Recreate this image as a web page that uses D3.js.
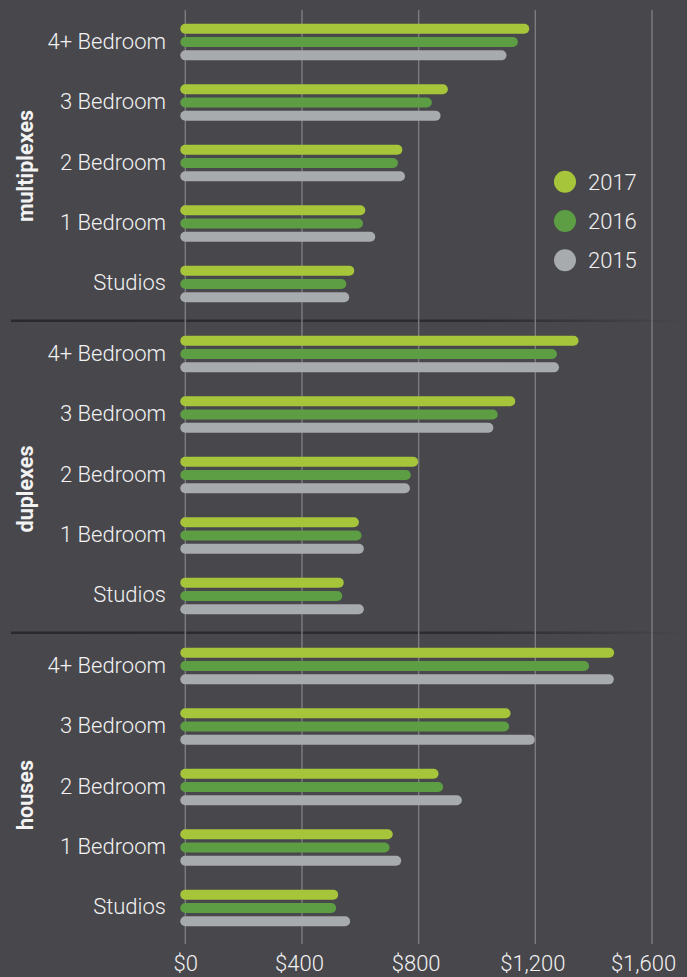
<!DOCTYPE html>
<html>
<head>
<meta charset="utf-8">
<script src="https://cdn.jsdelivr.net/npm/d3@7"></script>
<style>
  html, body { margin: 0; padding: 0; background: #48474c; }
  svg text { font-family: "Helvetica Neue", Roboto, "Liberation Sans", sans-serif; fill: #f2f2f2; }
</style>
</head>
<body>
<div id="chart"></div>
<script>
// rents by building type, unit size and year
var panels = ["multiplexes", "duplexes", "houses"];
var unitTypes = ["4+ Bedroom", "3 Bedroom", "2 Bedroom", "1 Bedroom", "Studios"];
var years = ["2017", "2016", "2015"];
var xTicks = [0, 400, 800, 1200, 1600];

var multiplexes2017 = [1162, 883, 727, 600, 562];
var multiplexes2016 = [1123, 828, 712, 592, 535];
var multiplexes2015 = [1084, 858, 736, 634, 545];

var duplexes2017 = [1331, 1114, 781, 578, 526];
var duplexes2016 = [1257, 1054, 756, 587, 521];
var duplexes2015 = [1264, 1039, 753, 595, 595];

var houses2017 = [1453, 1098, 851, 694, 507];
var houses2016 = [1367, 1093, 867, 683, 500];
var houses2015 = [1452, 1181, 931, 723, 548];

var yearColors = ["#a7c53a", "#5d9e45", "#a8abae"];

//Width and height
var w = 687;
var h = 977;

var seriesByPanel = {
  multiplexes: [multiplexes2017, multiplexes2016, multiplexes2015],
  duplexes: [duplexes2017, duplexes2016, duplexes2015],
  houses: [houses2017, houses2016, houses2015]
};

// flatten into rows for drawing
var rows = [];
panels.forEach(function(p) {
  years.forEach(function(y, yi) {
    unitTypes.forEach(function(u, ui) {
      rows.push({ panel: p, year: y, unit: u, value: seriesByPanel[p][yi][ui] });
    });
  });
});

var svg = d3.select("#chart")
  .append("svg")
  .attr("width", w)
  .attr("height", h);

//scales
var x = d3.scaleLinear().domain([0, 1600]).range([185.3, 652]);
var panelScale = d3.scaleBand().domain(panels).range([7, 943]);
var unitScale = d3.scalePoint().domain(unitTypes).range([0, panelScale.bandwidth()]).padding(0.58);
var yearScale = d3.scalePoint().domain(years).range([-13.3, 13.3]);
var color = d3.scaleOrdinal().domain(years).range(yearColors);

function rowY(p, u) { return panelScale(p) + unitScale(u); }

//separator lines with fade on the right
var grad = svg.append("defs").append("linearGradient")
  .attr("id", "sepFade")
  .attr("x1", "0%").attr("x2", "100%");
grad.append("stop").attr("offset", "0%").attr("stop-color", "#2a292d").attr("stop-opacity", 1);
grad.append("stop").attr("offset", "70%").attr("stop-color", "#2a292d").attr("stop-opacity", 0.9);
grad.append("stop").attr("offset", "100%").attr("stop-color", "#2a292d").attr("stop-opacity", 0);

svg.selectAll(".sep")
  .data(panels.slice(1))
  .enter()
  .append("rect")
  .attr("class", "sep")
  .attr("x", 11)
  .attr("y", function(d) { return panelScale(d) + 0.5; })
  .attr("width", w - 11)
  .attr("height", 2.5)
  .attr("fill", "url(#sepFade)");

//grid lines
svg.selectAll(".grid")
  .data(xTicks)
  .enter()
  .append("line")
  .attr("class", "grid")
  .attr("x1", function(d) { return x(d); })
  .attr("x2", function(d) { return x(d); })
  .attr("y1", 10)
  .attr("y2", 944)
  .attr("stroke", "#7c7c80")
  .attr("stroke-width", 1.4);

//bars (round capped lines)
svg.selectAll(".bar")
  .data(rows)
  .enter()
  .append("line")
  .attr("class", "bar")
  .attr("x1", x(0))
  .attr("x2", function(d) { return x(d.value); })
  .attr("y1", function(d) { return rowY(d.panel, d.unit) + yearScale(d.year); })
  .attr("y2", function(d) { return rowY(d.panel, d.unit) + yearScale(d.year); })
  .attr("stroke", function(d) { return color(d.year); })
  .attr("stroke-width", 10)
  .attr("stroke-linecap", "round");

//unit labels
panels.forEach(function(p) {
  svg.selectAll(".unit-" + p)
    .data(unitTypes)
    .enter()
    .append("text")
    .attr("class", "unit-" + p)
    .attr("x", 166)
    .attr("y", function(d) { return rowY(p, d) + 6.5; })
    .attr("text-anchor", "end")
    .attr("font-size", 22)
    .attr("font-weight", 300)
    .text(function(d) { return d; });
});

//panel titles
var titleShift = { multiplexes: 3, duplexes: 14, houses: 8 };
svg.selectAll(".ptitle")
  .data(panels)
  .enter()
  .append("text")
  .attr("class", "ptitle")
  .attr("transform", function(d) {
    return "translate(33," + (panelScale(d) + panelScale.bandwidth() / 2 + titleShift[d]) + ") rotate(-90)";
  })
  .attr("text-anchor", "middle")
  .attr("font-size", 21.5)
  .attr("font-weight", "bold")
  .text(function(d) { return d; });

//x axis
var xAxis = d3.axisBottom(x)
  .tickValues(xTicks)
  .tickSize(0)
  .tickPadding(0)
  .tickFormat(function(d) { return "$" + d3.format(",")(d); });

var axisG = svg.append("g")
  .attr("transform", "translate(0,951)")
  .call(xAxis);
axisG.select(".domain").remove();
axisG.selectAll("text")
  .attr("font-size", 22)
  .attr("font-weight", 300)
  .attr("fill", "#f2f2f2")
  .attr("dy", "0.93em")
  .attr("dx", function(d, i) { return d === 1600 ? -9 : (d === 0 ? 0 : -3); })
  .style("font-family", "\"Helvetica Neue\", Roboto, \"Liberation Sans\", sans-serif");

//legend
var legend = svg.selectAll(".legend")
  .data(years)
  .enter()
  .append("g")
  .attr("class", "legend")
  .attr("transform", function(d, i) { return "translate(565," + (181.7 + i * 39.3) + ")"; });

legend.append("circle")
  .attr("r", 11)
  .attr("fill", function(d) { return color(d); });

legend.append("text")
  .attr("x", 23)
  .attr("y", 8)
  .attr("font-size", 22)
  .attr("font-weight", 300)
  .text(function(d) { return d; });
</script>
</body>
</html>
